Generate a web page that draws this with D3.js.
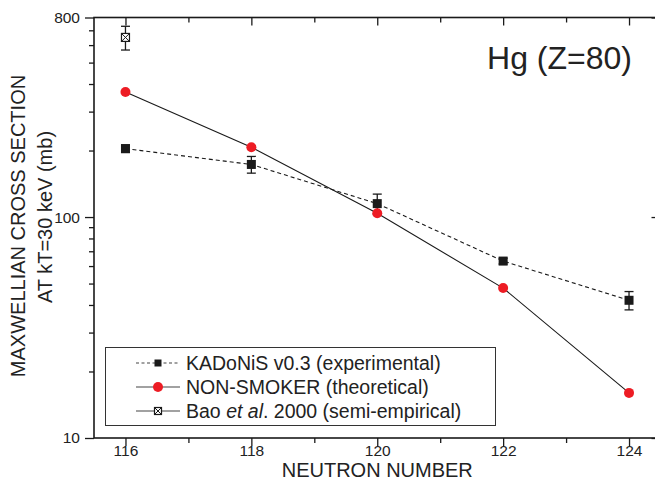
<!DOCTYPE html>
<html>
<head>
<meta charset="utf-8">
<script src="https://cdn.jsdelivr.net/npm/d3@7"></script>
<style>
  body { margin: 0; background: #fff; }
  svg { display: block; font-family: "Liberation Sans", Arial, sans-serif; }
</style>
</head>
<body>
<div id="chart"></div>
<script>
// Data
const neutrons = [116, 118, 120, 122, 124];
const kadonis = [204, 173, 115, 63.2, 42];
const kadonisErr = [8, 15, 12, 1.9, 4];
const nonSmoker = [368, 207, 104, 47.7, 16.0];
const baoN = [116];
const bao = [650];
const baoErr = [80];

const xTicks = [116, 117, 118, 119, 120, 121, 122, 123, 124];
const xLabels = [116, 118, 120, 122, 124];
const yTicks = [10, 20, 30, 40, 50, 60, 70, 80, 90, 100, 200, 300, 400, 500, 600, 700, 800];
const yLabels = [10, 100, 800];

const legendItems = [
    { key: 'kadonis', label: ['KADoNiS v0.3 (experimental)'] },
    { key: 'nonsmoker', label: ['NON-SMOKER (theoretical)'] },
    { key: 'bao', label: ['Bao ', 'et al', '. 2000 (semi-empirical)'] }
];

const W = 655, H = 487;
const margin = { top: 17.5, right: -5.5, bottom: 49, left: 94 };

const svg = d3.select('#chart').append('svg')
    .attr('width', W)
    .attr('height', H);

const x = d3.scaleLinear()
    .domain([115.5, 124.5])
    .range([margin.left, W - margin.right]);

const y = d3.scaleLog()
    .domain([10, 800])
    .range([H - margin.bottom, margin.top]);

const ink = '#1a1a1a';
const red = '#ed1c24';

// Axes
function styleAxis(g, majorTest, majorLen, minorLen, horizontal) {
    g.select('.domain').remove();
    g.selectAll('.tick line')
        .attr('stroke', ink)
        .attr('stroke-width', 1.3)
        .attr(horizontal ? 'y2' : 'x2', d => majorTest(d) ? majorLen : minorLen);
    g.selectAll('.tick text')
        .attr('fill', '#222')
        .style('font-size', '15.5px');
}

const isMajorX = d => xLabels.includes(d);
const isMajorY = d => yLabels.includes(d) || d === 100;

svg.append('g')
    .attr('transform', `translate(0,${H - margin.bottom})`)
    .call(d3.axisBottom(x).tickValues(xTicks)
        .tickFormat(d => isMajorX(d) ? d : '').tickPadding(1))
    .call(g => styleAxis(g, isMajorX, 8, 5, true));

svg.append('g')
    .attr('transform', `translate(0,${margin.top})`)
    .call(d3.axisTop(x).tickValues(xTicks).tickFormat(''))
    .call(g => styleAxis(g, isMajorX, 8, 5, true));

svg.append('g')
    .attr('transform', `translate(${margin.left},0)`)
    .call(d3.axisLeft(y).tickValues(yTicks)
        .tickFormat(d => yLabels.includes(d) ? d : '').tickPadding(8))
    .call(g => styleAxis(g, isMajorY, -9, -5, false));

svg.append('g')
    .attr('transform', `translate(${W - margin.right},0)`)
    .call(d3.axisRight(y).tickValues(yTicks).tickFormat(''))
    .call(g => styleAxis(g, isMajorY, -9, -5, false));

// Frame
svg.append('rect')
    .attr('x', margin.left)
    .attr('y', margin.top)
    .attr('width', x.range()[1] - margin.left)
    .attr('height', y.range()[0] - margin.top)
    .attr('fill', 'none')
    .attr('stroke', ink)
    .attr('stroke-width', 1.6);

// Axis titles
svg.append('text')
    .attr('x', x(120))
    .attr('y', 477)
    .attr('text-anchor', 'middle')
    .attr('fill', '#222')
    .style('font-size', '20px')
    .text('NEUTRON NUMBER');

svg.append('text')
    .attr('transform', 'translate(25,226) rotate(-90)')
    .attr('text-anchor', 'middle')
    .attr('fill', '#222')
    .style('font-size', '20px')
    .text('MAXWELLIAN CROSS SECTION');

svg.append('text')
    .attr('transform', 'translate(52,217) rotate(-90)')
    .attr('text-anchor', 'middle')
    .attr('fill', '#222')
    .style('font-size', '20px')
    .text('AT kT=30 keV (mb)');

svg.append('text')
    .attr('x', 632)
    .attr('y', 69)
    .attr('text-anchor', 'end')
    .attr('fill', '#222')
    .style('font-size', '32px')
    .text('Hg (Z=80)');

// Lines
const line = d3.line()
    .x(d => x(d[0]))
    .y(d => y(d[1]));

svg.append('path')
    .datum(d3.zip(neutrons, nonSmoker))
    .attr('d', line)
    .attr('fill', 'none')
    .attr('stroke', ink)
    .attr('stroke-width', 1.1);

svg.append('path')
    .datum(d3.zip(neutrons, kadonis))
    .attr('d', line)
    .attr('fill', 'none')
    .attr('stroke', ink)
    .attr('stroke-width', 1.1)
    .attr('stroke-dasharray', '4,3');

// Error bars
function errorBars(xs, ys, es) {
    const g = svg.append('g').attr('stroke', ink).attr('stroke-width', 1.3);
    xs.forEach((n, i) => {
        const cx = x(n), top = y(ys[i] + es[i]), bot = y(ys[i] - es[i]);
        g.append('line').attr('x1', cx).attr('x2', cx).attr('y1', top).attr('y2', bot);
        g.append('line').attr('x1', cx - 4.5).attr('x2', cx + 4.5).attr('y1', top).attr('y2', top);
        g.append('line').attr('x1', cx - 4.5).attr('x2', cx + 4.5).attr('y1', bot).attr('y2', bot);
    });
}
errorBars(neutrons, kadonis, kadonisErr);
errorBars(baoN, bao, baoErr);

// Markers
function square(g, cx, cy, s) {
    g.append('rect')
        .attr('x', cx - s / 2).attr('y', cy - s / 2)
        .attr('width', s).attr('height', s)
        .attr('fill', ink);
}
function crossSquare(g, cx, cy, s) {
    const h = s / 2;
    g.append('rect')
        .attr('x', cx - h).attr('y', cy - h)
        .attr('width', s).attr('height', s)
        .attr('fill', '#fff').attr('stroke', ink).attr('stroke-width', 1.2);
    g.append('path')
        .attr('d', `M${cx - h},${cy - h}L${cx + h},${cy + h}M${cx + h},${cy - h}L${cx - h},${cy + h}`)
        .attr('stroke', ink).attr('stroke-width', 1);
}
function dot(g, cx, cy, r) {
    g.append('circle')
        .attr('cx', cx).attr('cy', cy).attr('r', r)
        .attr('fill', red);
}

const marks = svg.append('g');
neutrons.forEach((n, i) => square(marks, x(n), y(kadonis[i]), 9));
neutrons.forEach((n, i) => dot(marks, x(n), y(nonSmoker[i]), 5));
baoN.forEach((n, i) => crossSquare(marks, x(n), y(bao[i]), 8));

// Legend
const legend = svg.append('g');
legend.append('rect')
    .attr('x', 105.5).attr('y', 347.5)
    .attr('width', 390).attr('height', 78)
    .attr('fill', '#fff')
    .attr('stroke', '#333')
    .attr('stroke-width', 1);

legendItems.forEach((item, i) => {
    const cy = 363 + i * 24;
    const row = legend.append('g');
    const ln = row.append('line')
        .attr('x1', 136).attr('x2', 180)
        .attr('y1', cy).attr('y2', cy)
        .attr('stroke', '#444')
        .attr('stroke-width', 1.1);
    if (item.key === 'kadonis') {
        ln.attr('stroke-dasharray', '3,2.5');
        square(row, 158, cy, 7);
    } else if (item.key === 'nonsmoker') {
        dot(row, 158, cy, 5);
    } else {
        crossSquare(row, 158, cy, 7);
    }
    const t = row.append('text')
        .attr('x', 186)
        .attr('y', cy + 7)
        .attr('fill', '#222')
        .style('font-size', '19.5px');
    item.label.forEach((part, j) => {
        t.append('tspan')
            .style('font-style', j === 1 ? 'italic' : 'normal')
            .text(part);
    });
});
</script>
</body>
</html>
